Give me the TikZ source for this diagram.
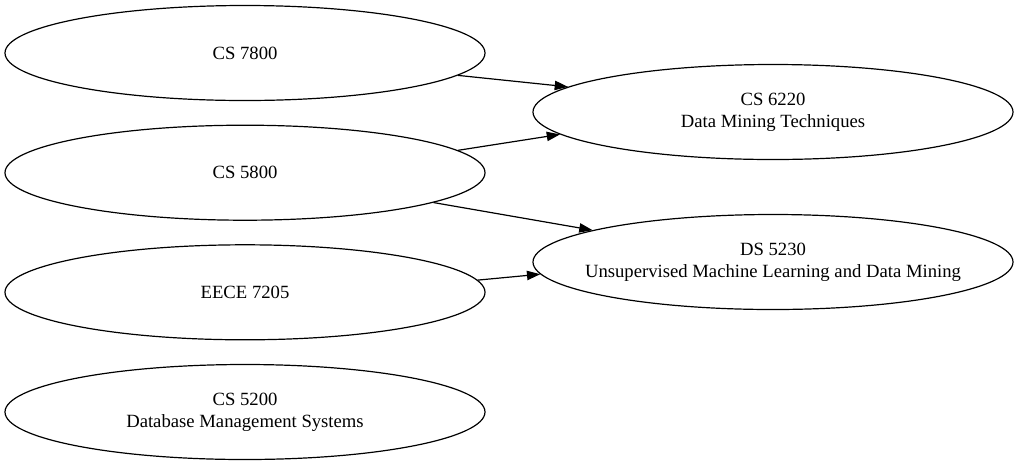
\documentclass[tikz,border=0pt]{standalone}
\usepackage{fontspec}
\setmainfont{Liberation Serif}
\usetikzlibrary{shapes.geometric,arrows.meta}
\newcommand{\twoline}[2]{\makebox[0pt]{\begin{tabular}{@{}c@{}}#1\\#2\end{tabular}}}
\begin{document}
\begin{tikzpicture}[x=1pt,y=-1pt,
  course/.style={draw,line width=1.2pt,ellipse,minimum width=480pt,minimum height=95pt,inner sep=0pt,font=\fontsize{18.67}{22.4}\selectfont},
  link/.style={line width=1.2pt,-{Triangle[length=13.3pt,width=9.3pt]}}]
\useasboundingbox (0,0) rectangle (1019,467);
\node[course] (cs7800) at (245,53) {CS 7800};
\node[course] (cs5800) at (245,172.7) {CS 5800};
\node[course] (eece7205) at (245,292.3) {EECE 7205};
\node[course] (cs5200) at (245,412) {\twoline{CS 5200}{Database Management Systems}};
\node[course] (cs6220) at (773,112) {\twoline{CS 6220}{Data Mining Techniques}};
\node[course] (ds5230) at (773,262) {\twoline{DS 5230}{Unsupervised Machine Learning and Data Mining}};
\draw[link] (cs7800.-6.3) -- (cs6220.173.7);
\draw[link] (cs5800.6.4) -- (cs6220.186.6);
\draw[link] (cs5800.-9.4) -- (ds5230.170.7);
\draw[link] (eece7205.3.2) -- (ds5230.183.4);
\end{tikzpicture}
\end{document}
